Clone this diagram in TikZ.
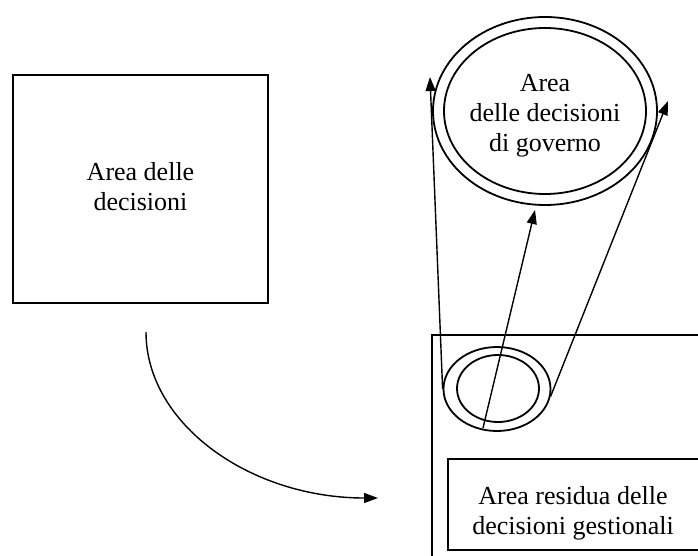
\documentclass[tikz,border=0pt]{standalone}
\usepackage{fontspec}
\setmainfont{Liberation Serif}
\usetikzlibrary{shapes.geometric,arrows.meta}
\newcommand{\lblfont}{\fontsize{26pt}{30pt}\selectfont}
\begin{document}
\begin{tikzpicture}[x=1pt,y=-1pt,
  line width=1.8pt,
  lbl/.style={font=\lblfont,align=center},
  ring/.style={draw,ellipse,inner sep=0pt},
  conn/.style={line width=1.4pt,-{Triangle[length=14pt,width=10pt]}}]
\useasboundingbox (0,0) rectangle (698,556);
\begin{scope}
\clip (0,0) rectangle (698,556);
% left box
\node[draw,minimum width=255pt,minimum height=228pt] (dec) at (140.5,189) {};
\node[lbl] (dectext) at (140.5,187) {Area delle\\decisioni};
% right outer area, running past the page edge
\draw (432,570) -- (432,335) -- (720,335);
% residual area box
\draw (720,459) -- (448,459) -- (448,550) -- (720,550);
\node[lbl] (res) at (573,513) {Area residua delle\\decisioni gestionali};
% government decisions: big double ellipse
\node[ring,minimum width=224pt,minimum height=188pt] (bigout) at (545,111) {};
\node[ring,minimum width=202pt,minimum height=166pt] (bigin) at (545,111) {};
\node[lbl] (govtext) at (545,116) {Area\\delle decisioni\\di governo};
% small double ellipse
\node[ring,minimum width=107pt,minimum height=84pt] (smallout) at (497,389) {};
\node[ring,minimum width=82pt,minimum height=67pt] (smallin) at (498,388.5) {};
% connector end points
\coordinate (tl) at (430,77);
\coordinate (tm) at (535,210);
\coordinate (tr) at (668,101);
\coordinate (ms) at (483,428);
\coordinate (cs) at (146,332);
\coordinate (ce) at (378,498);
\draw[conn] (smallout.west) -- (tl);
\draw[conn] (ms) -- (tm);
\draw[conn] (smallout.-8) -- (tr);
\draw[conn] (cs) .. controls (146,424) and (250,498) .. (ce);
\end{scope}
\end{tikzpicture}
\end{document}
